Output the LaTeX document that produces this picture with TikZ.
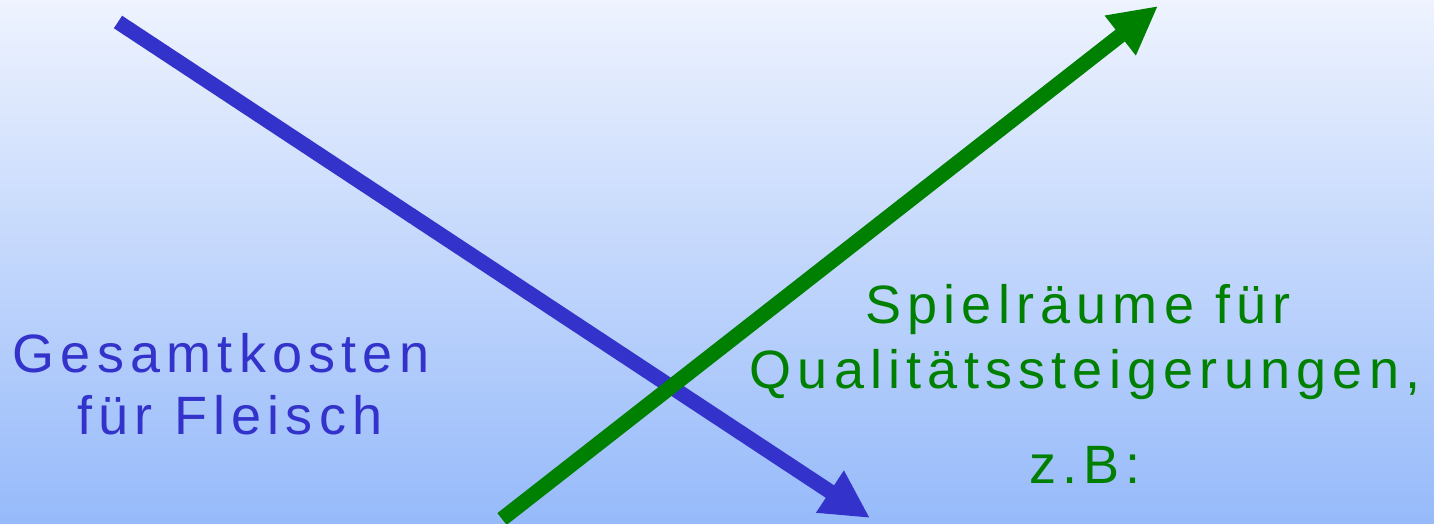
\documentclass[tikz,border=0pt]{standalone}
\usepackage{fontspec}
\usetikzlibrary{arrows.meta}
\newfontfamily\lblfont[LetterSpace=11.5]{Liberation Sans}
\definecolor{bgtop}{RGB}{238,243,254}
\definecolor{bgbot}{RGB}{150,186,250}
\definecolor{arrblue}{RGB}{51,51,204}
\definecolor{arrgreen}{RGB}{0,128,0}
\begin{document}
\begin{tikzpicture}[x=1pt,y=-1pt,
  bigarrow/.style={line width=15pt,-{Triangle[length=48pt,width=47pt]}},
  lbl/.style={inner sep=0pt,anchor=base,font=\lblfont\fontsize{54}{64}\selectfont}]
\useasboundingbox (0,0) rectangle (1434,524);
\shade[top color=bgtop,bottom color=bgbot] (0,0) rectangle (1434,524);
\coordinate (bs) at (118,22);
\coordinate (be) at (870,518);
\coordinate (gs) at (502,519);
\coordinate (ge) at (1158,6);
\draw[bigarrow,arrblue] (bs) -- (be);
\draw[bigarrow,arrgreen] (gs) -- (ge);
\node[lbl,text=arrblue] (l1) at (221,372) {Gesamtkosten};
\node[lbl,text=arrblue] (l2) at (230,434) {für Fleisch};
\node[lbl,text=arrgreen] (r1) at (1078,323) {Spielräume für};
\node[lbl,text=arrgreen] (r2) at (1085,388) {Qualitätssteigerungen,};
\node[lbl,text=arrgreen] (r3) at (1085,483) {z.B:};
\end{tikzpicture}
\end{document}
